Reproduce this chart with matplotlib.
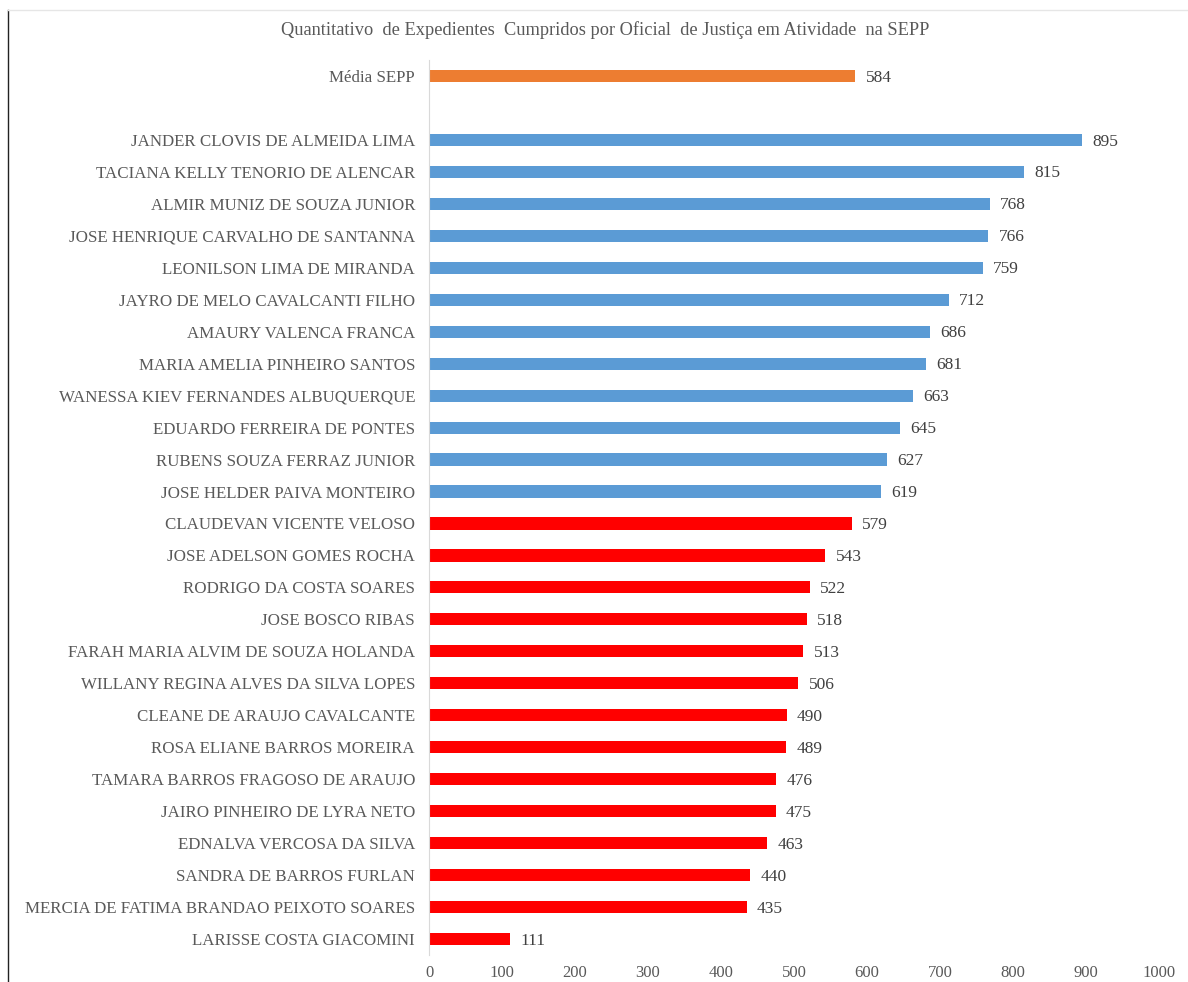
import matplotlib.pyplot as plt
from matplotlib.lines import Line2D

plt.rcParams['font.family'] = ['Liberation Serif', 'DejaVu Serif']

title = "Quantitativo  de Expedientes  Cumpridos por Oficial  de Justiça em Atividade  na SEPP"

avg_label = "Média SEPP"
avg_value = 584

names = [
    "JANDER CLOVIS DE ALMEIDA LIMA",
    "TACIANA KELLY TENORIO DE ALENCAR",
    "ALMIR MUNIZ DE SOUZA JUNIOR",
    "JOSE HENRIQUE CARVALHO DE SANTANNA",
    "LEONILSON LIMA DE MIRANDA",
    "JAYRO DE MELO CAVALCANTI FILHO",
    "AMAURY VALENCA FRANCA",
    "MARIA AMELIA PINHEIRO SANTOS",
    "WANESSA KIEV FERNANDES ALBUQUERQUE",
    "EDUARDO FERREIRA DE PONTES",
    "RUBENS SOUZA FERRAZ JUNIOR",
    "JOSE HELDER PAIVA MONTEIRO",
    "CLAUDEVAN VICENTE VELOSO",
    "JOSE ADELSON GOMES ROCHA",
    "RODRIGO DA COSTA SOARES",
    "JOSE BOSCO RIBAS",
    "FARAH MARIA ALVIM DE SOUZA HOLANDA",
    "WILLANY REGINA ALVES DA SILVA LOPES",
    "CLEANE DE ARAUJO CAVALCANTE",
    "ROSA ELIANE BARROS MOREIRA",
    "TAMARA BARROS FRAGOSO DE ARAUJO",
    "JAIRO PINHEIRO DE LYRA NETO",
    "EDNALVA VERCOSA DA SILVA",
    "SANDRA DE BARROS FURLAN",
    "MERCIA DE FATIMA BRANDAO PEIXOTO SOARES",
    "LARISSE COSTA GIACOMINI",
]
values = [895, 815, 768, 766, 759, 712, 686, 681, 663, 645, 627, 619,
          579, 543, 522, 518, 513, 506, 490, 489, 476, 475, 463, 440, 435, 111]

ORANGE = "#ED7D31"
BLUE = "#5B9BD5"
RED = "#FF0000"
TXT = "#595959"

fig = plt.figure(figsize=(11.88, 9.82), dpi=100)
ax = fig.add_axes([429 / 1188, 1 - 955 / 982, 730 / 1188, 895 / 982])

# rows from the top: average, an empty gap row, then the names
labels = [avg_label, ""] + names
n = len(labels)
ypos = [n - 1 - i for i in range(n)]

ax.barh(ypos[0], avg_value, height=0.38, color=ORANGE)
ax.text(avg_value + 14, ypos[0] - 0.05, str(avg_value), va="center", ha="left",
        fontsize=12.5, color="#404040")

for name, v, y in zip(names, values, ypos[2:]):
    color = BLUE if v > avg_value else RED
    ax.barh(y, v, height=0.38, color=color)
    ax.text(v + 14, y - 0.05, str(v), va="center", ha="left", fontsize=12.5,
            color="#404040")

ax.set_yticks(ypos)
ax.set_yticklabels(labels, fontsize=12.2, color=TXT)
ax.set_ylim(-0.5, n - 0.5)
ax.set_xlim(0, 1000)
ax.set_xticks(range(0, 1001, 100))
ax.tick_params(axis="x", labelsize=12, labelcolor=TXT, length=0, pad=7)
ax.tick_params(axis="y", length=0, pad=10)

for side in ["top", "right", "bottom"]:
    ax.spines[side].set_visible(False)
ax.spines["left"].set_color("#d9d9d9")

fig.text(605 / 1188, 1 - 30 / 982, title, ha="center", va="center",
         fontsize=13.2, color=TXT)

# chart frame edges visible in the picture
fig.add_artist(Line2D([8 / 1188, 8 / 1188], [0, 1 - 10 / 982],
                      transform=fig.transFigure, color="#222222", lw=1))
fig.add_artist(Line2D([8 / 1188, 1], [1 - 10 / 982, 1 - 10 / 982],
                      transform=fig.transFigure, color="#e6e6e6", lw=1))

fig.savefig("out.png", dpi=100)
